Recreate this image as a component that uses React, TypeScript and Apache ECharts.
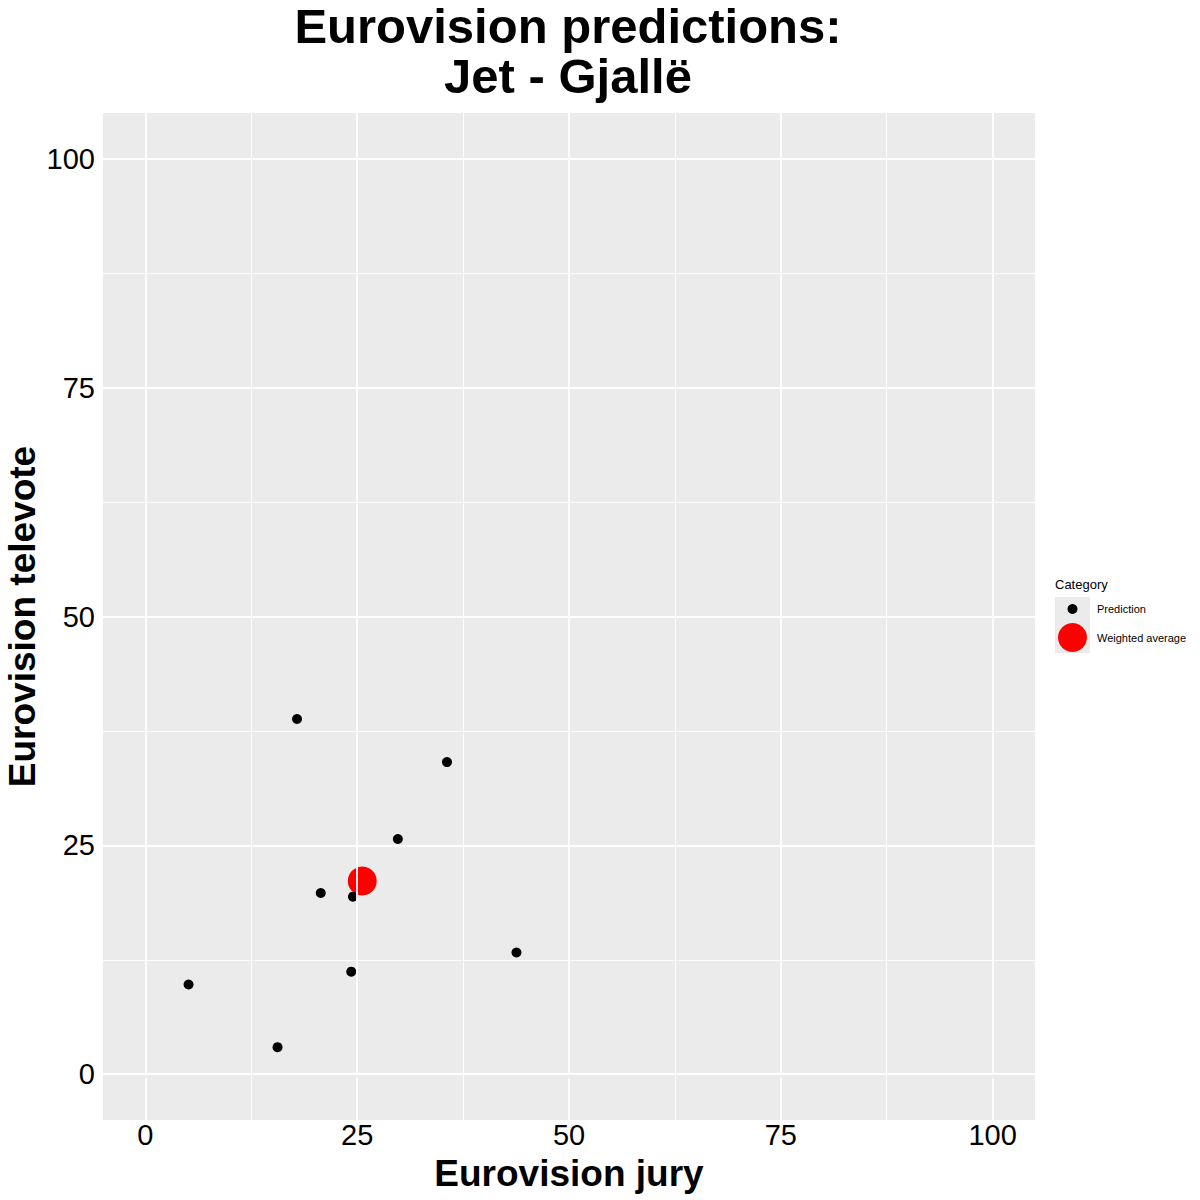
import React, { useEffect, useRef } from "react";
import * as echarts from "echarts";

const titleLine1 = "Eurovision predictions:";
const titleLine2 = "Jet - Gjallë";
const xName = "Eurovision jury";
const yName = "Eurovision televote";
const tickValues = [0, 25, 50, 75, 100];
const minorValues = [12.5, 37.5, 62.5, 87.5];
const predictions: [number, number][] = [
  [17.9, 38.8],
  [35.6, 34.1],
  [29.8, 25.7],
  [20.7, 19.8],
  [24.5, 19.4],
  [43.8, 13.3],
  [24.3, 11.2],
  [5.1, 9.8],
  [15.6, 2.96],
];
const weightedAverage: [number, number][] = [[25.6, 21.1]];
const legendTitle = "Category";
const legendLabels = ["Prediction", "Weighted average"];

const FONT = "'Liberation Sans', Arial, Helvetica, sans-serif";

export default function App() {
  const ref = useRef<HTMLDivElement>(null);
  useEffect(() => {
    if (!ref.current) return;
    const chart = echarts.init(ref.current, null, { renderer: "svg" });
    const gridLines: any[] = [];
    tickValues.forEach((v) => {
      gridLines.push({ xAxis: v, lineStyle: { color: "#ffffff", width: 1.8, type: "solid" } });
      gridLines.push({ yAxis: v, lineStyle: { color: "#ffffff", width: 1.8, type: "solid" } });
    });
    minorValues.forEach((v) => {
      gridLines.push({ xAxis: v, lineStyle: { color: "#ffffff", width: 0.9, type: "solid" } });
      gridLines.push({ yAxis: v, lineStyle: { color: "#ffffff", width: 0.9, type: "solid" } });
    });
    const axisCommon = {
      type: "value",
      min: -5,
      max: 105,
      axisLine: { show: false },
      splitLine: { show: false },
      nameLocation: "middle",
      nameMoveOverlap: false,
    };
    const nameStyle = { fontFamily: FONT, fontSize: 37, fontWeight: "bold", color: "#000" };
    const titleStyle = { fontFamily: FONT, fontSize: 49, fontWeight: "bold", lineHeight: 50, color: "#000" };
    chart.setOption({
      animation: false,
      backgroundColor: "#ffffff",
      title: [
        { text: titleLine1, left: 568, top: 1, textAlign: "center", padding: 0, textStyle: titleStyle },
        { text: titleLine2, left: 568, top: 51, textAlign: "center", padding: 0, textStyle: titleStyle },
      ],
      grid: {
        left: 103,
        right: 165,
        top: 113,
        bottom: 80,
        containLabel: false,
        outerBoundsMode: "none",
        show: true,
        backgroundColor: "#EBEBEB",
        borderWidth: 0,
      },
      xAxis: {
        ...axisCommon,
        name: xName,
        nameGap: 38,
        nameTextStyle: { ...nameStyle, lineHeight: 30 },
        axisTick: { show: true, customValues: tickValues, length: 4, lineStyle: { color: "#333", width: 1.5 } },
        axisLabel: { customValues: tickValues, margin: 1, lineHeight: 28, fontFamily: FONT, fontSize: 29, color: "#000" },
      },
      yAxis: {
        ...axisCommon,
        name: yName,
        nameGap: 62,
        nameTextStyle: nameStyle,
        axisTick: { show: true, customValues: tickValues, length: 4, lineStyle: { color: "#333", width: 1.5 } },
        axisLabel: { customValues: tickValues, margin: 8, fontFamily: FONT, fontSize: 29, color: "#000" },
      },
      series: [
        {
          type: "line",
          data: [],
          silent: true,
          z: 1,
          markLine: {
            silent: true,
            symbol: "none",
            label: { show: false },
            animation: false,
            data: gridLines,
          },
        },
        {
          name: legendLabels[1],
          type: "scatter",
          data: weightedAverage,
          symbolSize: 29,
          itemStyle: { color: "#FF0000", opacity: 1 },
          z: 3,
        },
        {
          name: legendLabels[0],
          type: "scatter",
          data: predictions,
          symbolSize: 10,
          itemStyle: { color: "#000000", opacity: 1 },
          z: 4,
        },
      ],
      graphic: [
        {
          type: "text",
          left: 1055,
          top: 578,
          style: { text: legendTitle, fontFamily: FONT, fontSize: 13, fill: "#000" },
        },
        {
          type: "rect",
          shape: { x: 1055, y: 597, width: 35, height: 56 },
          style: { fill: "#EBEBEB" },
        },
        {
          type: "circle",
          shape: { cx: 1072.5, cy: 609, r: 5 },
          style: { fill: "#000" },
        },
        {
          type: "circle",
          shape: { cx: 1072.5, cy: 637.5, r: 14.5 },
          style: { fill: "#FF0000" },
        },
        {
          type: "text",
          x: 1097,
          y: 609,
          style: { text: legendLabels[0], fontFamily: FONT, fontSize: 11, fill: "#000", verticalAlign: "middle" },
        },
        {
          type: "text",
          x: 1097,
          y: 637.5,
          style: { text: legendLabels[1], fontFamily: FONT, fontSize: 11, fill: "#000", verticalAlign: "middle" },
        },
      ],
    });
    return () => chart.dispose();
  }, []);
  return (
    <div
      ref={ref}
      style={{ position: "absolute", left: 0, top: 0, width: 1200, height: 1200 }}
    />
  );
}
